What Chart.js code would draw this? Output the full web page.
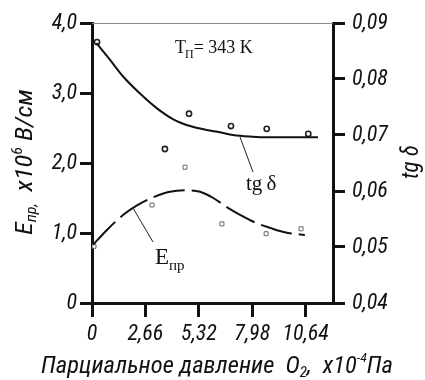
<!DOCTYPE html>
<html>
<head>
<meta charset="utf-8">
<script src="https://cdn.jsdelivr.net/npm/chart.js@4/dist/chart.umd.min.js"></script>
<style>
html,body{margin:0;padding:0;background:#fff;}
#wrap{width:425px;height:380px;position:relative;}
</style>
</head>
<body>
<div id="wrap"><canvas id="c" width="425" height="380"></canvas></div>
<script>
// ---- data ----
const xTickValues = [0, 2.66, 5.32, 7.98, 10.64];
const xTickLabels = ['0', '2,66', '5,32', '7,98', '10,64'];
const eTickValues = [0, 1, 2, 3, 4];
const eTickLabels = ['0', '1,0', '2,0', '3,0', '4,0'];
const tgTickValues = [0.04, 0.05, 0.06, 0.07, 0.08, 0.09];
const tgTickLabels = ['0,04', '0,05', '0,06', '0,07', '0,08', '0,09'];

const tgCurveX = [0.23, 0.9, 1.56, 2.39, 3.22, 4.05, 4.88, 5.71, 6.37, 7.02, 8.0, 8.71, 10.0, 11.25];
const tgCurveY = [0.0864, 0.0834, 0.0804, 0.0774, 0.0748, 0.0728, 0.0716, 0.0709, 0.0705, 0.0700, 0.0697, 0.0696, 0.0696, 0.0696];
const tgPointsX = [0.25, 3.63, 4.83, 6.92, 8.70, 10.77];
const tgPointsY = [0.0866, 0.0675, 0.0738, 0.0716, 0.0711, 0.0702];

const eCurveX = [0.05, 0.73, 1.56, 2.22, 3.05, 3.88, 4.71, 5.38, 6.04, 6.71, 7.37, 8.2, 8.9, 9.6, 10.6];
const eCurveY = [0.83, 1.04, 1.26, 1.39, 1.51, 1.59, 1.61, 1.59, 1.50, 1.37, 1.26, 1.14, 1.07, 1.01, 0.97];
const ePointsX = [0.1, 2.99, 4.63, 6.47, 8.67, 10.41];
const ePointsY = [0.81, 1.40, 1.94, 1.13, 0.99, 1.06];

const zip = (xs, ys) => xs.map((x, i) => ({x: x, y: ys[i]}));

const SANS = "'Roboto Condensed', 'DejaVu Sans Condensed', sans-serif";
const TICK_FONT = {family: SANS, size: 22, style: 'italic', weight: 'normal'};

const labelsPlugin = {
  id: 'labels',
  afterDraw(chart) {
    const ctx = chart.ctx;
    const a = chart.chartArea;
    ctx.save();
    // top thin border
    ctx.strokeStyle = '#8a8a8a';
    ctx.lineWidth = 1;
    ctx.beginPath();
    ctx.moveTo(a.left, a.top + 0.5);
    ctx.lineTo(a.right, a.top + 0.5);
    ctx.stroke();

    // leader lines
    ctx.strokeStyle = '#222';
    ctx.lineWidth = 1;
    ctx.beginPath();
    ctx.moveTo(240, 137); ctx.lineTo(253, 172);
    ctx.moveTo(133, 208); ctx.lineTo(153, 242);
    ctx.stroke();

    ctx.fillStyle = '#111';
    ctx.textBaseline = 'alphabetic';
    ctx.textAlign = 'left';
    const serif = "'Liberation Serif', 'Times New Roman', serif";
    // T_П = 343 K
    ctx.font = '18px ' + serif;
    ctx.fillText('T', 175, 53);
    let w = ctx.measureText('T').width;
    ctx.font = '12px ' + serif;
    ctx.fillText('П', 175 + w - 1, 58);
    let w2 = ctx.measureText('П').width;
    ctx.font = '18px ' + serif;
    ctx.fillText('= 343 K', 175 + w + w2 - 1, 53);

    // tg δ label
    ctx.font = '21px ' + serif;
    ctx.fillText('tg\u2009δ', 246, 190);

    // E_пр label
    ctx.font = '23px ' + serif;
    ctx.fillText('E', 155, 264);
    w = ctx.measureText('E').width;
    ctx.font = '15px ' + serif;
    ctx.fillText('пр', 155 + w, 270);

    // x title
    const xParts = [
      ['Парциальное давление  O', 23, 0],
      ['2', 14, 4],
      [',  x10', 23, 0],
      ['-4', 13, -11],
      ['Па', 23, 0]
    ];
    drawParts(ctx, xParts, 41, 373, SANS, 'left', 352);

    // left title rotated
    ctx.save();
    ctx.translate(32, 162);
    ctx.rotate(-Math.PI / 2);
    const lParts = [
      ['E', 23, 0],
      ['пр,', 14, 4],
      ['  x10', 23, 0],
      ['6', 14, -10],
      [' B/см', 23, 0]
    ];
    drawParts(ctx, lParts, 0, 0, SANS, 'center', 147);
    ctx.restore();

    // right title rotated
    ctx.save();
    ctx.translate(418, 162);
    ctx.rotate(-Math.PI / 2);
    drawParts(ctx, [['tg δ', 23, 0]], 0, 0, SANS, 'center', 0);
    ctx.restore();

    ctx.restore();
  }
};

// draws text pieces; optional target width stretches horizontally to match
function drawParts(ctx, parts, x, y, family, align, target) {
  let total = 0;
  parts.forEach(p => { ctx.font = 'italic ' + p[1] + 'px ' + family; total += ctx.measureText(p[0]).width; });
  const sx = target ? Math.min(1.15, Math.max(0.85, target / total)) : 1;
  ctx.save();
  ctx.translate(x, y);
  ctx.scale(sx, 1);
  let cx = align === 'center' ? -total / 2 : 0;
  parts.forEach(p => {
    ctx.font = 'italic ' + p[1] + 'px ' + family;
    ctx.fillText(p[0], cx, p[2]);
    cx += ctx.measureText(p[0]).width;
  });
  ctx.restore();
}

new Chart(document.getElementById('c'), {
  type: 'scatter',
  data: {
    datasets: [
      {
        type: 'line', label: 'tgδ curve', data: zip(tgCurveX, tgCurveY), yAxisID: 'y1',
        borderColor: '#111', borderWidth: 2, pointRadius: 0, cubicInterpolationMode: 'monotone', fill: false
      },
      {
        label: 'tgδ', data: zip(tgPointsX, tgPointsY), yAxisID: 'y1',
        pointStyle: 'circle', pointRadius: 2.6, borderColor: '#222', borderWidth: 1.6,
        backgroundColor: '#fff', showLine: false
      },
      {
        type: 'line', label: 'Eпр curve', data: zip(eCurveX, eCurveY), yAxisID: 'y',
        borderColor: '#111', borderWidth: 2, borderDash: [32, 7], pointRadius: 0, cubicInterpolationMode: 'monotone', fill: false
      },
      {
        label: 'Eпр', data: zip(ePointsX, ePointsY), yAxisID: 'y',
        pointStyle: 'rect', pointRadius: 2.8, borderColor: '#666', borderWidth: 1,
        backgroundColor: '#fff', showLine: false
      }
    ]
  },
  options: {
    responsive: false,
    animation: false,
    layout: {padding: {top: 23, left: 0, right: 0, bottom: 0}},
    plugins: {legend: {display: false}, tooltip: {enabled: false}},
    scales: {
      x: {
        type: 'linear', min: 0, max: 12,
        afterBuildTicks: s => { s.ticks = xTickValues.map(v => ({value: v})); },
        afterFit: s => { s.height = 77; },
        ticks: {
          autoSkip: false, maxRotation: 0, padding: 4, color: '#111', font: TICK_FONT,
          callback: (v, i) => xTickLabels[i]
        },
        grid: {drawOnChartArea: false, drawTicks: true, tickLength: 14, lineWidth: 3, color: '#111'},
        border: {display: true, width: 3, color: '#111'}
      },
      y: {
        type: 'linear', position: 'left', min: 0, max: 4,
        afterBuildTicks: s => { s.ticks = eTickValues.map(v => ({value: v})); },
        afterFit: s => { s.width = 92; },
        ticks: {padding: 3, color: '#111', font: TICK_FONT, callback: (v, i) => eTickLabels[i]},
        grid: {drawOnChartArea: false, drawTicks: true, tickLength: 12, lineWidth: 3, color: '#111'},
        border: {display: true, width: 3, color: '#111'}
      },
      y1: {
        type: 'linear', position: 'right', min: 0.04, max: 0.09,
        afterBuildTicks: s => { s.ticks = tgTickValues.map(v => ({value: v})); },
        afterFit: s => { s.width = 92; },
        ticks: {padding: 7, color: '#111', font: TICK_FONT, callback: (v, i) => tgTickLabels[i]},
        grid: {drawOnChartArea: false, drawTicks: true, tickLength: 12, lineWidth: 3, color: '#111'},
        border: {display: true, width: 3, color: '#111'}
      }
    }
  },
  plugins: [labelsPlugin]
});
</script>
</body>
</html>
